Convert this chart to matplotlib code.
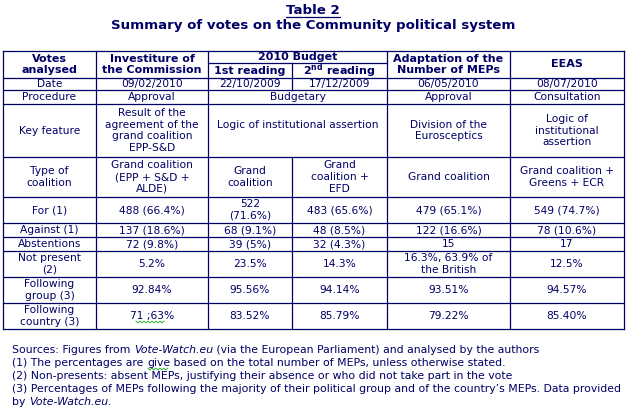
import matplotlib
matplotlib.use("Agg")
import matplotlib.pyplot as plt

# ---- table data ----
title = "Table 2"
subtitle = "Summary of votes on the Community political system"

header = ["Votes\nanalysed", "Investiture of\nthe Commission", "2010 Budget",
          "1st reading", r"2$^{\mathbf{nd}}$ reading", "Adaptation of the\nNumber of MEPs",
          "EEAS"]

row_labels = ["Date", "Procedure", "Key feature", "Type of\ncoalition", "For (1)",
              "Against (1)", "Abstentions", "Not present\n(2)", "Following\ngroup (3)",
              "Following\ncountry (3)"]

investiture = ["09/02/2010", "Approval",
               "Result of the\nagreement of the\ngrand coalition\nEPP-S&D",
               "Grand coalition\n(EPP + S&D +\nALDE)", "488 (66.4%)", "137 (18.6%)",
               "72 (9.8%)", "5.2%", "92.84%", "71 ;63%"]
budget_1st = ["22/10/2009", None, None, "Grand\ncoalition", "522\n(71.6%)",
              "68 (9.1%)", "39 (5%)", "23.5%", "95.56%", "83.52%"]
budget_2nd = ["17/12/2009", None, None, "Grand\ncoalition +\nEFD", "483 (65.6%)",
              "48 (8.5%)", "32 (4.3%)", "14.3%", "94.14%", "85.79%"]
budget_shared = ["Budgetary", "Logic of institutional assertion"]
meps = ["06/05/2010", "Approval", "Division of the\nEurosceptics", "Grand coalition",
        "479 (65.1%)", "122 (16.6%)", "15", "16.3%, 63.9% of\nthe British",
        "93.51%", "79.22%"]
eeas = ["08/07/2010", "Consultation", "Logic of\ninstitutional\nassertion",
        "Grand coalition +\nGreens + ECR", "549 (74.7%)", "78 (10.6%)", "17",
        "12.5%", "94.57%", "85.40%"]

# (text, style, spell-check squiggle?)
notes = [
    [("Sources: Figures from ", "normal", False), ("Vote-Watch.eu", "italic", False),
     (" (via the European Parliament) and analysed by the authors", "normal", False)],
    [("(1) The percentages are ", "normal", False), ("give", "normal", True),
     (" based on the total number of MEPs, unless otherwise stated.", "normal", False)],
    [("(2) Non-presents: absent MEPs, justifying their absence or who did not take part in the vote", "normal", False)],
    [("(3) Percentages of MEPs following the majority of their political group and of the country\u2019s MEPs. Data provided", "normal", False)],
    [("by ", "normal", False), ("Vote-Watch.eu", "italic", False), (".", "normal", False)],
]

# ---- layout (pixels) ----
W, H = 626, 411
navy = "#000066"
xs = [3, 96, 208, 292, 387, 510, 624]
ys = [51, 78, 90, 104, 157, 197, 223, 237, 251, 277, 303, 329]
split_y = 63
fs = 7.7
fs_head = 8
fs_title = 9.6
fs_note = 7.8

plt.rcParams["mathtext.fontset"] = "dejavusans"

fig = plt.figure(figsize=(W / 100, H / 100), dpi=100)
ax = fig.add_axes([0, 0, 1, 1])
ax.set_xlim(0, W)
ax.set_ylim(H, 0)
ax.axis("off")

lw = 0.9
# horizontal lines
for y in ys:
    ax.plot([xs[0], xs[-1]], [y, y], color=navy, lw=lw, solid_capstyle="projecting")
ax.plot([xs[2], xs[4]], [split_y, split_y], color=navy, lw=lw)
# vertical lines
for i, x in enumerate(xs):
    if i == 3:
        ax.plot([x, x], [split_y, ys[2]], color=navy, lw=lw)
        ax.plot([x, x], [ys[4], ys[-1]], color=navy, lw=lw)
    else:
        ax.plot([x, x], [ys[0], ys[-1]], color=navy, lw=lw, solid_capstyle="projecting")


def cell(x0, x1, y, s, bold=False):
    return ax.text((x0 + x1) / 2, y, s, ha="center", va="center",
                   fontsize=fs_head if bold else fs, color=navy,
                   fontweight="bold" if bold else "normal", linespacing=1.2)


def mid(i):
    return (ys[i] + ys[i + 1]) / 2


def squiggle(x0, x1, y):
    px, py = [], []
    k = 0
    x = x0
    while x <= x1:
        px.append(x)
        py.append(y + (1 if k % 2 else -1) * 0.9)
        x += 2
        k += 1
    ax.plot(px, py, color="#33aa33", lw=0.7)


# title
t = ax.text(W / 2, 10, title, ha="center", va="center", fontsize=fs_title,
            fontweight="bold", color=navy)
ax.text(W / 2, 25.5, subtitle, ha="center", va="center", fontsize=fs_title,
        fontweight="bold", color=navy)

# header
sub_y = (split_y + ys[1]) / 2 + 0.5
cell(xs[0], xs[1], mid(0), header[0], True)
cell(xs[1], xs[2], mid(0), header[1], True)
cell(xs[2], xs[4], (ys[0] + split_y) / 2, header[2], True)
cell(xs[2], xs[3], sub_y, header[3], True)
cell(xs[3], xs[4], sub_y, header[4], True)
cell(xs[4], xs[5], mid(0), header[5], True)
cell(xs[5], xs[6], mid(0) - 0.5, header[6], True)

# body
for i, lab in enumerate(row_labels):
    y = mid(i + 1)
    cell(xs[0], xs[1], y, lab)
    cell(xs[1], xs[2], y, investiture[i])
    if budget_1st[i] is None:
        yy = y if i == 1 else 125
        cell(xs[2], xs[4], yy, budget_shared[i - 1])
    else:
        cell(xs[2], xs[3], y, budget_1st[i])
        cell(xs[3], xs[4], y, budget_2nd[i])
    cell(xs[4], xs[5], y, meps[i])
    cell(xs[5], xs[6], y, eeas[i])

squiggle(136, 164, 322)

# footnotes
note_y = [350, 363, 376, 389, 402]
marked = []
for y, parts in zip(note_y, notes):
    prev = None
    for s, style, mark in parts:
        if prev is None:
            prev = ax.text(12, y, s, fontsize=fs_note, color=navy, style=style,
                           ha="left", va="center")
        else:
            prev = ax.annotate(s, xy=(1, 0), xycoords=prev, fontsize=fs_note,
                               color=navy, style=style, va="bottom")
        if mark:
            marked.append((prev, y))

fig.canvas.draw()
r = fig.canvas.get_renderer()
# underline title
bb = t.get_window_extent(r)
ax.plot([bb.x0, bb.x1], [H - bb.y0 + 0.5, H - bb.y0 + 0.5], color=navy, lw=0.9)
for p, y in marked:
    bb = p.get_window_extent(r)
    squiggle(bb.x0 + 1, bb.x1 - 1, y + 6)

fig.savefig("out.png", dpi=100)
